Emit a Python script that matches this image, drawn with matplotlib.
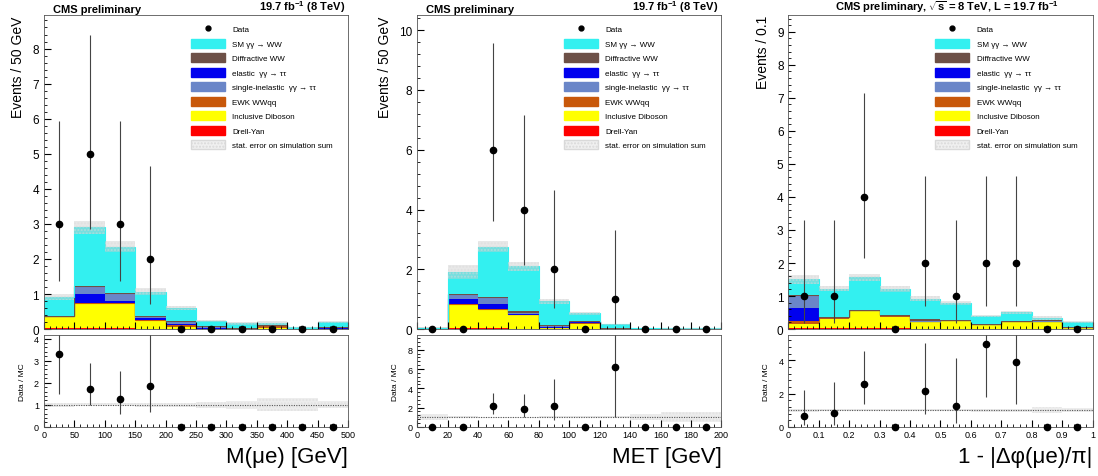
import numpy as np
import matplotlib as mpl
mpl.use('Agg')
import matplotlib.pyplot as plt
from matplotlib.patches import Patch
from matplotlib.lines import Line2D

plt.rcParams['font.family'] = ['Liberation Sans', 'DejaVu Sans']
plt.rcParams['mathtext.fontset'] = 'custom'
plt.rcParams['mathtext.rm'] = 'Liberation Sans'
plt.rcParams['mathtext.it'] = 'Liberation Sans:italic'
plt.rcParams['mathtext.bf'] = 'Liberation Sans:bold'

# ---- panel 1: M(mu e), 50 GeV bins
m_edges = [0, 50, 100, 150, 200, 250, 300, 350, 400, 450, 500]
m_dy = [0.02, 0.02, 0.02, 0.01, 0.01, 0.0, 0.0, 0.0, 0.0, 0.0]
m_vv = [0.34, 0.71, 0.73, 0.24, 0.05, 0.02, 0.01, 0.02, 0.0, 0.01]
m_ewk = [0.0, 0.0, 0.0, 0.0, 0.08, 0.02, 0.01, 0.10, 0.01, 0.02]
m_el = [0.0, 0.26, 0.05, 0.08, 0.0, 0.0, 0.0, 0.0, 0.0, 0.0]
m_sinel = [0.0, 0.20, 0.22, 0.04, 0.08, 0.06, 0.02, 0.0, 0.0, 0.02]
m_diff = [0.0, 0.03, 0.02, 0.0, 0.02, 0.0, 0.0, 0.0, 0.0, 0.0]
m_sm = [0.55, 1.68, 1.31, 0.70, 0.37, 0.13, 0.12, 0.05, 0.04, 0.15]
m_stat = [0.08, 0.18, 0.16, 0.10, 0.06, 0.03, 0.03, 0.05, 0.015, 0.03]
m_data = [3, 5, 3, 2, 0, 0, 0, 0, 0, 0]
m_data_lo = [1.37, 2.84, 1.37, 0.71, 0, 0, 0, 0, 0, 0]
m_data_hi = [5.92, 8.38, 5.92, 4.64, 0, 0, 0, 0, 0, 0]

# ---- panel 2: MET, 20 GeV bins
met_edges = [0, 20, 40, 60, 80, 100, 120, 140, 160, 180, 200]
met_dy = [0.01, 0.02, 0.02, 0.01, 0.01, 0.01, 0.0, 0.0, 0.0, 0.0]
met_vv = [0.01, 0.81, 0.66, 0.45, 0.03, 0.16, 0.01, 0.0, 0.0, 0.0]
met_ewk = [0.0, 0.0, 0.0, 0.05, 0.04, 0.07, 0.01, 0.0, 0.0, 0.0]
met_el = [0.0, 0.17, 0.17, 0.0, 0.0, 0.0, 0.0, 0.0, 0.0, 0.0]
met_sinel = [0.0, 0.17, 0.20, 0.04, 0.01, 0.02, 0.01, 0.01, 0.0, 0.0]
met_diff = [0.0, 0.02, 0.02, 0.05, 0.03, 0.0, 0.0, 0.0, 0.0, 0.0]
met_sm = [0.01, 0.72, 1.69, 1.50, 0.81, 0.27, 0.13, 0.02, 0.02, 0.02]
met_stat = [0.01, 0.22, 0.18, 0.15, 0.08, 0.05, 0.02, 0.01, 0.01, 0.01]
met_data = [0, 0, 6, 4, 2, 0, 1, 0, 0, 0]
met_data_lo = [0, 0, 3.62, 2.16, 0.71, 0, 0.17, 0, 0, 0]
met_data_hi = [0, 0, 9.58, 7.16, 4.64, 0, 3.30, 0, 0, 0]

# ---- panel 3: 1 - |dphi/pi|, 0.1 bins
dphi_edges = [0, 0.1, 0.2, 0.3, 0.4, 0.5, 0.6, 0.7, 0.8, 0.9, 1.0]
dphi_dy = [0.03, 0.02, 0.02, 0.02, 0.01, 0.01, 0.01, 0.01, 0.01, 0.01]
dphi_vv = [0.12, 0.30, 0.53, 0.36, 0.22, 0.24, 0.12, 0.22, 0.20, 0.04]
dphi_ewk = [0.08, 0.06, 0.03, 0.04, 0.02, 0.02, 0.01, 0.02, 0.03, 0.0]
dphi_el = [0.40, 0.0, 0.0, 0.0, 0.0, 0.0, 0.0, 0.0, 0.0, 0.0]
dphi_sinel = [0.40, 0.0, 0.0, 0.0, 0.0, 0.0, 0.0, 0.0, 0.0, 0.0]
dphi_diff = [0.0, 0.0, 0.0, 0.0, 0.05, 0.0, 0.0, 0.0, 0.02, 0.0]
dphi_sm = [0.48, 0.84, 0.99, 0.79, 0.62, 0.53, 0.26, 0.26, 0.09, 0.17]
dphi_stat = [0.14, 0.08, 0.10, 0.08, 0.07, 0.06, 0.04, 0.05, 0.06, 0.03]
dphi_data = [1, 1, 4, 0, 2, 1, 2, 2, 0, 0]
dphi_data_lo = [0.17, 0.17, 2.16, 0, 0.71, 0.17, 0.71, 0.71, 0, 0]
dphi_data_hi = [3.30, 3.30, 7.16, 0, 4.64, 3.30, 4.64, 4.64, 0, 0]

# stack order, bottom to top
labels = ['Drell-Yan', 'Inclusive Diboson', 'EWK WWqq', 'elastic  γγ → ττ',
          'single-inelastic  γγ → ττ', 'Diffractive WW', 'SM γγ → WW']
colors = ['#ff0000', '#ffff00', '#c8580a', '#0000ee', '#6a86c8', '#6d5047', '#33f0f0']
legend_order = [6, 5, 3, 4, 2, 1, 0]


def title_bar(ax, wide=False):
    kw = dict(transform=ax.transAxes, va='bottom', fontsize=8, weight='bold')
    if wide:
        ax.text(0.52, 1.004, r'CMS preliminary, $\mathbf{\sqrt{s}}$ = 8 TeV, L = 19.7 fb$^{\mathbf{-1}}$',
                ha='center', **kw)
    else:
        ax.text(0.03, 1.004, 'CMS preliminary', ha='left', **kw)
        ax.text(0.99, 1.004, r'19.7 fb$^{\mathbf{-1}}$ (8 TeV)', ha='right', **kw)


def style_axis(ax, size=8):
    ax.tick_params(which='both', direction='in', top=False, right=False, labelsize=size)
    ax.tick_params(which='major', length=5)
    ax.tick_params(which='minor', length=2.5)
    for s in ax.spines.values():
        s.set_linewidth(0.6)
        s.set_color('#555555')


def draw_panel(x0, edges, comps, stat, data, lo, hi, *, ymax, ystep, rmax, rstep,
               ylabel, xlabel, xmajor, xminor, xfmt, wide=False):
    w = 0.277
    ax = fig.add_axes([x0, 0.308, w, 0.658])
    rax = fig.add_axes([x0, 0.103, w, 0.192])
    edges = np.array(edges)
    centers = 0.5 * (edges[1:] + edges[:-1])

    bottom = np.zeros(len(centers))
    for vals, c in zip(comps, colors):
        vals = np.array(vals)
        ax.stairs(bottom + vals, edges, baseline=bottom, fill=True, color=c, lw=0)
        ax.stairs(bottom + vals, edges, baseline=None, color=c, lw=0.8)
        bottom = bottom + vals
    total = bottom
    stat = np.array(stat)
    ax.stairs(total + stat, edges, baseline=total - stat, fill=True,
              facecolor=(0.8, 0.8, 0.8, 0.45), hatch='.....', edgecolor=(0.85, 0.85, 0.85, 0.5), lw=0)

    data = np.array(data, float)
    lo = np.array(lo)
    hi = np.array(hi)
    nz = data > 0
    ax.vlines(centers[nz], lo[nz], hi[nz], color='#444444', lw=0.8)
    ax.plot(centers, data, 'o', color='black', ms=4.5, clip_on=False, zorder=5)

    ax.set_xlim(edges[0], edges[-1])
    ax.set_ylim(0, ymax)
    ax.set_yticks(np.arange(0, ymax, ystep))
    ax.set_xticks(np.arange(edges[0], edges[-1] + 1e-9, xmajor))
    ax.xaxis.set_minor_locator(mpl.ticker.MultipleLocator(xminor))
    ax.tick_params(labelbottom=False)
    ax.yaxis.set_minor_locator(mpl.ticker.AutoMinorLocator(5))
    style_axis(ax, 8.5)
    ax.set_ylabel(ylabel, fontsize=10, loc='top', labelpad=5)
    title_bar(ax, wide)

    patches = [Patch(color=c) for c in colors]
    handles = [Line2D([], [], marker='o', ls='none', color='black', ms=3.5)]
    handles += [patches[i] for i in legend_order]
    handles += [Patch(facecolor=(0.9, 0.9, 0.9, 0.6), hatch='.....', edgecolor=(0.85, 0.85, 0.85))]
    names = ['Data'] + [labels[i] for i in legend_order] + ['stat. error on simulation sum']
    ax.legend(handles, names, loc='upper left', bbox_to_anchor=(0.465, 0.99), frameon=False,
              fontsize=5.8, handlelength=4.2, handleheight=1.35, labelspacing=0.66,
              handletextpad=0.9, borderpad=0.2)

    # ratio
    rel = stat / total
    rax.stairs(1 + rel, edges, baseline=1 - rel, fill=True,
               facecolor=(0.8, 0.8, 0.8, 0.35), hatch='.....', edgecolor=(0.85, 0.85, 0.85, 0.5), lw=0)
    rax.axhline(1, color='#555555', lw=0.8, ls=(0, (1, 1.2)))
    ratio = data / total
    rax.vlines(centers[nz], lo[nz] / total[nz], hi[nz] / total[nz], color='#444444', lw=0.8)
    rax.plot(centers, ratio, 'o', color='black', ms=4.5, clip_on=False, zorder=5)
    rax.set_xlim(edges[0], edges[-1])
    rax.set_ylim(0, rmax)
    rax.set_yticks(np.arange(0, rmax, rstep))
    rax.yaxis.set_minor_locator(mpl.ticker.AutoMinorLocator(5))
    rax.set_xticks(np.arange(edges[0], edges[-1] + 1e-9, xmajor))
    rax.xaxis.set_major_formatter(mpl.ticker.FuncFormatter(xfmt))
    rax.xaxis.set_minor_locator(mpl.ticker.MultipleLocator(xminor))
    style_axis(rax, 6.5)
    rax.tick_params(axis='x', pad=2)
    rax.set_ylabel('Data / MC', fontsize=6, labelpad=6)
    rax.set_xlabel(xlabel, fontsize=16, loc='right', labelpad=5)
    return ax, rax


fig = plt.figure(figsize=(10.98, 4.77), dpi=100)

draw_panel(0.040, m_edges, [m_dy, m_vv, m_ewk, m_el, m_sinel, m_diff, m_sm], m_stat,
           m_data, m_data_lo, m_data_hi, ymax=8.95, ystep=1, rmax=4.15, rstep=1,
           ylabel='Events / 50 GeV', xlabel='M(μe) [GeV]', xmajor=50, xminor=10,
           xfmt=lambda v, p: f'{v:.0f}')
draw_panel(0.380, met_edges, [met_dy, met_vv, met_ewk, met_el, met_sinel, met_diff, met_sm], met_stat,
           met_data, met_data_lo, met_data_hi, ymax=10.5, ystep=2, rmax=9.5, rstep=2,
           ylabel='Events / 50 GeV', xlabel='MET [GeV]', xmajor=20, xminor=5,
           xfmt=lambda v, p: f'{v:.0f}')
draw_panel(0.718, dphi_edges, [dphi_dy, dphi_vv, dphi_ewk, dphi_el, dphi_sinel, dphi_diff, dphi_sm], dphi_stat,
           dphi_data, dphi_data_lo, dphi_data_hi, ymax=9.5, ystep=1, rmax=5.5, rstep=2,
           ylabel='Events / 0.1', xlabel='1 - |Δφ(μe)/π|', xmajor=0.1, xminor=0.02,
           xfmt=lambda v, p: f'{v:.1f}'.rstrip('0').rstrip('.') if v else '0', wide=True)

fig.savefig('out.png', dpi=100)
